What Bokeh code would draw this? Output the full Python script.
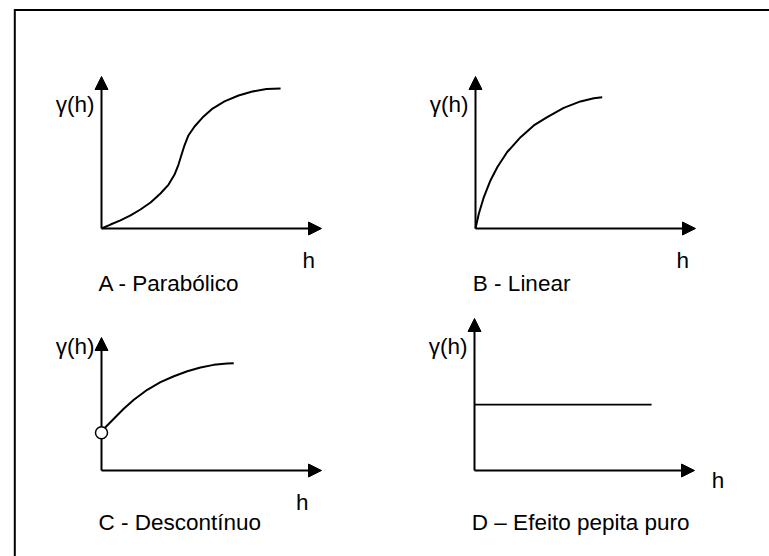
from bokeh.plotting import figure
from bokeh.models import Range1d, Arrow, NormalHead
from bokeh.core.properties import value
from bokeh.embed import file_html
from bokeh.resources import INLINE

# Schematic variogram shapes: lag distance h (0..10) against gamma(h)
parabolic_h = [0, 0.41, 0.86, 1.32, 1.77, 2.23, 2.68, 3.05, 3.32, 3.50, 3.64,
               3.77, 3.95, 4.23, 4.59, 5.05, 5.59, 6.23, 6.86, 7.50, 8.14]
parabolic_gamma = [0, 0.26, 0.53, 0.86, 1.25, 1.71, 2.30, 2.89, 3.55, 4.21, 4.87,
                   5.46, 6.12, 6.71, 7.30, 7.89, 8.36, 8.75, 9.01, 9.18, 9.21]

linear_h = [0, 0.15, 0.38, 0.68, 0.99, 1.44, 2.05, 2.65, 3.26, 4.01, 4.77, 5.38, 5.76]
linear_gamma = [0, 0.97, 2.07, 3.16, 4.03, 5.03, 6.01, 6.78, 7.33, 7.94, 8.36, 8.57, 8.64]

discont_h = [0, 0.18, 0.56, 1.01, 1.47, 2.08, 2.68, 3.29, 3.90, 4.50, 5.10, 5.71, 6.01]
discont_gamma = [2.48, 2.85, 3.40, 4.06, 4.65, 5.31, 5.81, 6.20, 6.53, 6.78, 6.95, 7.04, 7.06]
nugget_c0 = [2.48]

pure_nugget_h = [0, 8.05]
pure_nugget_gamma = [4.34, 4.34]

captions = ["A - Parabólico", "B - Linear", "C - Descontínuo", "D \u2013 Efeito pepita puro"]
y_label = "\u03b3(h)"
x_label = "h"

W, H = 769, 556
FONT = value("Liberation Sans")
FS = "22.5px"

p = figure(width=W, height=H, x_range=Range1d(0, W), y_range=Range1d(H, 0),
           output_backend="svg", toolbar_location=None, title=None,
           x_axis_type=None, y_axis_type=None, min_border=0)
p.grid.visible = False
p.outline_line_color = None
p.background_fill_color = "white"
p.border_fill_color = "white"

# outer frame (top and left edges visible on the sheet)
p.line(x=[14.3, 14.3, W + 5], y=[H + 5, 9.5, 9.5], line_color="black",
       line_width=2, line_join="miter")

# panel placement: origin in page pixels, pixels per unit
SX, SY = 22.0, 15.2
panels = {
    "A": dict(ox=101, oy=228, ytip=10.0, hx=9.14, hy=-2.1, cx=-0.14, cy=-3.62),
    "B": dict(ox=475, oy=228, ytip=10.0, hx=9.14, hy=-2.1, cx=-0.12, cy=-3.62),
    "C": dict(ox=101, oy=470, ytip=8.75, hx=8.84, hy=-2.1, cx=-0.14, cy=-3.45),
    "D": dict(ox=474, oy=470, ytip=10.0, hx=10.78, hy=-0.66, cx=-0.12, cy=-3.45),
}

for name, g in panels.items():
    xr, yr = "x" + name, "y" + name
    p.extra_x_ranges[xr] = Range1d((0 - g["ox"]) / SX, (W - g["ox"]) / SX)
    p.extra_y_ranges[yr] = Range1d((g["oy"] - H) / SY, g["oy"] / SY)
    for xe, ye in [(10.0, 0.0), (0.0, g["ytip"])]:
        p.add_layout(Arrow(end=NormalHead(size=13, fill_color="black", line_color="black", line_width=1),
                           x_start=0, y_start=0, x_end=xe, y_end=ye,
                           line_color="black", line_width=2, level="underlay",
                           x_range_name=xr, y_range_name=yr))
    p.text(x=[0], y=[8.15], text=[y_label], x_offset=-7, text_align="right",
           text_baseline="middle", text_font=FONT, text_font_size=FS, text_color="black",
           x_range_name=xr, y_range_name=yr)
    p.text(x=[g["hx"]], y=[g["hy"]], text=[x_label], text_align="left",
           text_baseline="alphabetic", text_font=FONT, text_font_size=FS, text_color="black",
           x_range_name=xr, y_range_name=yr)
    p.text(x=[g["cx"]], y=[g["cy"]], text=[captions["ABCD".index(name)]], text_align="left",
           text_baseline="alphabetic", text_font=FONT, text_font_size=FS, text_color="black",
           x_range_name=xr, y_range_name=yr)

p.line(parabolic_h, parabolic_gamma, line_color="black", line_width=2,
       x_range_name="xA", y_range_name="yA")
p.line(linear_h, linear_gamma, line_color="black", line_width=2,
       x_range_name="xB", y_range_name="yB")
p.line(discont_h, discont_gamma, line_color="black", line_width=2,
       x_range_name="xC", y_range_name="yC")
p.scatter(x=[0], y=nugget_c0, size=12, marker="circle", fill_color="white",
          line_color="black", line_width=1.5, x_range_name="xC", y_range_name="yC")
p.line(pure_nugget_h, pure_nugget_gamma, line_color="black", line_width=1.7,
       x_range_name="xD", y_range_name="yD")

open("out.html", "w").write(file_html(p, INLINE))
